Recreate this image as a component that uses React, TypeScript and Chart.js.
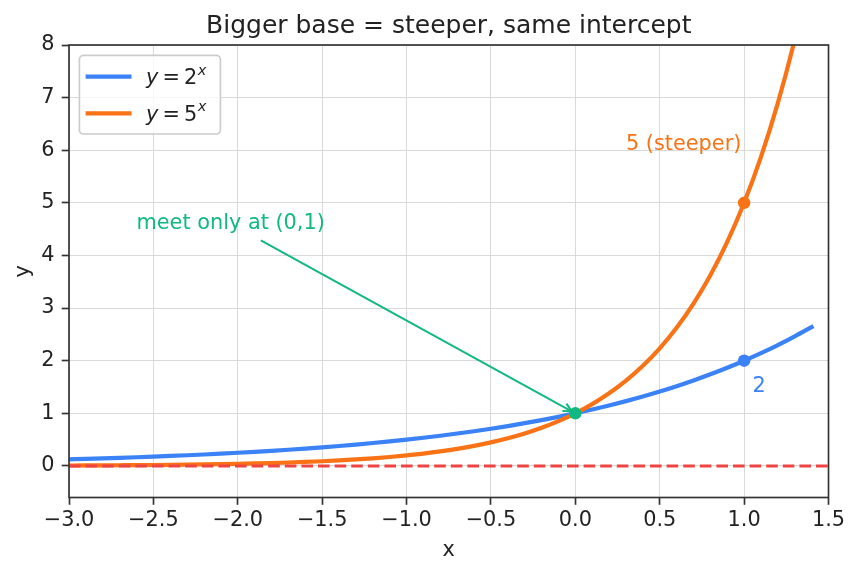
import React, { useEffect, useRef } from 'react';
import { Chart, registerables } from 'chart.js';

Chart.register(...registerables);

// ---- data ----
const xValues = [
  -3.0, -2.9, -2.8, -2.7, -2.6, -2.5, -2.4, -2.3, -2.2, -2.1,
  -2.0, -1.9, -1.8, -1.7, -1.6, -1.5, -1.4, -1.3, -1.2, -1.1,
  -1.0, -0.9, -0.8, -0.7, -0.6, -0.5, -0.4, -0.3, -0.2, -0.1,
  0.0, 0.1, 0.2, 0.3, 0.4, 0.5, 0.6, 0.7, 0.8, 0.9,
  1.0, 1.1, 1.2, 1.3, 1.4,
];
const base2Values = [
  0.125, 0.134, 0.1436, 0.1539, 0.1649, 0.1768, 0.1895, 0.2031, 0.2176, 0.2333,
  0.25, 0.2679, 0.2872, 0.3078, 0.3299, 0.3536, 0.3789, 0.4061, 0.4353, 0.4665,
  0.5, 0.5359, 0.5743, 0.6156, 0.6598, 0.7071, 0.7579, 0.8123, 0.8706, 0.933,
  1.0, 1.0718, 1.1487, 1.2311, 1.3195, 1.4142, 1.5157, 1.6245, 1.7411, 1.8661,
  2.0, 2.1435, 2.2974, 2.4623, 2.639,
];
const base5Values = [
  0.008, 0.0094, 0.011, 0.013, 0.0152, 0.0179, 0.021, 0.0247, 0.029, 0.0341,
  0.04, 0.047, 0.0552, 0.0648, 0.0761, 0.0894, 0.1051, 0.1234, 0.145, 0.1703,
  0.2, 0.2349, 0.2759, 0.3241, 0.3807, 0.4472, 0.5253, 0.617, 0.7248, 0.8513,
  1.0, 1.1746, 1.3797, 1.6207, 1.9037, 2.2361, 2.6265, 3.0852, 3.6239, 4.2567,
  5.0, 5.8731, 6.8986, 8.1033, 9.5183,
];
const asymptoteX = [-3, 1.5];
const asymptoteY = [0, 0];
const marker2 = [1, 2];
const marker5 = [1, 5];
const meetPoint = [0, 1];
const xTickValues = [-3, -2.5, -2, -1.5, -1, -0.5, 0, 0.5, 1, 1.5];
const yTickValues = [0, 1, 2, 3, 4, 5, 6, 7, 8];
const titleText = 'Bigger base = steeper, same intercept';
const meetLabel = 'meet only at (0,1)';
const meetLabelAt = [-2.6, 4.5];
const steepLabel = '5 (steeper)';
const steepLabelAt = [0.3, 6];
const base2Label = '2';
const base2LabelAt = [1.05, 1.4];
const legendBases = ['2', '5'];

// ---- styles ----
const BLUE = '#3b82f6';
const ORANGE = '#f97316';
const GREEN = '#10b981';
const RED = '#ef4444';
const FAMILY = '"DejaVu Sans", sans-serif';
const FS = 20.83;
const INK = '#222222';

const zip = (xs: number[], ys: number[]) => xs.map((x, i) => ({ x, y: ys[i] }));
const fmtX = (v: number) => v.toFixed(1).replace('-', '\u2212');

const overlay = {
  id: 'overlay',
  afterDatasetsDraw(chart: any) {
    const { ctx, scales } = chart;
    const xs = scales.x, ys = scales.y;
    ctx.save();
    ctx.font = `${FS}px ${FAMILY}`;
    ctx.textAlign = 'left';
    ctx.textBaseline = 'alphabetic';

    // meet annotation
    const tx = xs.getPixelForValue(meetLabelAt[0]);
    const ty = ys.getPixelForValue(meetLabelAt[1]);
    ctx.fillStyle = GREEN;
    ctx.fillText(meetLabel, tx, ty);
    const w = ctx.measureText(meetLabel).width;
    const asc = 0.76 * FS, desc = 0.24 * FS;
    const cx = tx + w / 2, cy = ty - (asc - desc) / 2;
    const px = xs.getPixelForValue(meetPoint[0]);
    const py = ys.getPixelForValue(meetPoint[1]);
    const dx = px - cx, dy = py - cy;
    const len = Math.hypot(dx, dy);
    const ux = dx / len, uy = dy / len;
    const pad = 4.17;
    const right = tx + w + pad, bottom = ty + desc + pad;
    const tX = (right - cx) / dx, tY = (bottom - cy) / dy;
    const t = Math.min(tX, tY);
    const sx = cx + t * dx + ux * 4.17, sy = cy + t * dy + uy * 4.17;
    const ex = px - ux * 4.17, ey = py - uy * 4.17;
    ctx.strokeStyle = GREEN;
    ctx.lineWidth = 2;
    ctx.lineCap = 'butt';
    ctx.beginPath();
    ctx.moveTo(sx, sy);
    ctx.lineTo(ex, ey);
    ctx.stroke();
    const hl = 8.3, hw = 4.2;
    const nx = -uy, ny = ux;
    ctx.beginPath();
    ctx.moveTo(ex - ux * hl + nx * hw, ey - uy * hl + ny * hw);
    ctx.lineTo(ex, ey);
    ctx.lineTo(ex - ux * hl - nx * hw, ey - uy * hl - ny * hw);
    ctx.stroke();

    ctx.fillStyle = ORANGE;
    ctx.fillText(steepLabel, xs.getPixelForValue(steepLabelAt[0]), ys.getPixelForValue(steepLabelAt[1]));
    ctx.fillStyle = BLUE;
    ctx.fillText(base2Label, xs.getPixelForValue(base2LabelAt[0]), ys.getPixelForValue(base2LabelAt[1]));
    ctx.restore();
  },
  afterDraw(chart: any) {
    const { ctx, chartArea: a } = chart;
    ctx.save();
    // spines
    ctx.strokeStyle = '#333333';
    ctx.lineWidth = 1.67;
    ctx.strokeRect(a.left, a.top, a.right - a.left, a.bottom - a.top);

    // title
    ctx.fillStyle = INK;
    ctx.textAlign = 'center';
    ctx.textBaseline = 'alphabetic';
    ctx.font = `25px ${FAMILY}`;
    ctx.fillText(titleText, (a.left + a.right) / 2, 32.6);
    // axis labels
    ctx.font = `${FS}px ${FAMILY}`;
    ctx.fillText('x', (a.left + a.right) / 2, 555.5);
    ctx.save();
    ctx.translate(28.5, (a.top + a.bottom) / 2);
    ctx.rotate(-Math.PI / 2);
    ctx.fillText('y', 0, 0);
    ctx.restore();

    // legend
    const lx = a.left + 10.4, ly = a.top + 10.4;
    const lw = 141, lh = 78.6, r = 4;
    ctx.beginPath();
    ctx.moveTo(lx + r, ly);
    ctx.arcTo(lx + lw, ly, lx + lw, ly + lh, r);
    ctx.arcTo(lx + lw, ly + lh, lx, ly + lh, r);
    ctx.arcTo(lx, ly + lh, lx, ly, r);
    ctx.arcTo(lx, ly, lx + lw, ly, r);
    ctx.closePath();
    ctx.fillStyle = 'rgba(255,255,255,0.8)';
    ctx.fill();
    ctx.strokeStyle = '#cccccc';
    ctx.lineWidth = 1.67;
    ctx.stroke();

    const colors = [BLUE, ORANGE];
    legendBases.forEach((b, i) => {
      const rowY = ly + 21.3 + i * 36.6;
      ctx.strokeStyle = colors[i];
      ctx.lineWidth = 4.2;
      ctx.lineCap = 'square';
      ctx.beginPath();
      ctx.moveTo(lx + 8.3, rowY);
      ctx.lineTo(lx + 50, rowY);
      ctx.stroke();
      const base = rowY + 7.6;
      let cxp = lx + 66.7;
      ctx.fillStyle = INK;
      ctx.textAlign = 'left';
      ctx.font = `italic ${FS}px ${FAMILY}`;
      ctx.fillText('y', cxp, base);
      cxp += ctx.measureText('y').width + 4.05;
      ctx.font = `${FS}px ${FAMILY}`;
      ctx.fillText('=', cxp, base);
      cxp += ctx.measureText('=').width + 4.05;
      ctx.fillText(b, cxp, base);
      cxp += ctx.measureText(b).width + 0.5;
      ctx.font = `italic ${FS * 0.7}px ${FAMILY}`;
      ctx.fillText('x', cxp, base - 9.6);
    });
    ctx.restore();
  },
};

export default function App() {
  const ref = useRef<HTMLCanvasElement | null>(null);
  useEffect(() => {
    if (!ref.current) return;
    const gridCommon = {
      color: '#d9d9d9',
      lineWidth: 1,
      tickColor: '#333333',
      tickWidth: 1.67,
      tickLength: 7.3,
    };
    const chart = new Chart(ref.current, {
      type: 'scatter',
      data: {
        datasets: [
          {
            data: zip(asymptoteX, asymptoteY),
            showLine: true,
            borderColor: RED,
            borderWidth: 3.1,
            borderDash: [11.6, 5],
            pointRadius: 0,
            order: 2,
            clip: 0,
          },
          {
            data: zip(xValues, base2Values),
            showLine: true,
            borderColor: BLUE,
            borderWidth: 4.2,
            pointRadius: 0,
            cubicInterpolationMode: 'monotone',
            borderCapStyle: 'square',
            order: 4,
            clip: 0,
          },
          {
            data: zip(xValues, base5Values),
            showLine: true,
            borderColor: ORANGE,
            borderWidth: 4.2,
            pointRadius: 0,
            cubicInterpolationMode: 'monotone',
            borderCapStyle: 'square',
            order: 3,
            clip: 0,
          },
          {
            data: [{ x: marker2[0], y: marker2[1] }],
            pointRadius: 6.25,
            pointBackgroundColor: BLUE,
            pointBorderWidth: 0,
            order: 1,
          },
          {
            data: [{ x: marker5[0], y: marker5[1] }],
            pointRadius: 6.25,
            pointBackgroundColor: ORANGE,
            pointBorderWidth: 0,
            order: 1,
          },
          {
            data: [{ x: meetPoint[0], y: meetPoint[1] }],
            pointRadius: 6.25,
            pointBackgroundColor: GREEN,
            pointBorderWidth: 0,
            order: 0,
          },
        ] as any,
      },
      options: {
        animation: false,
        responsive: false,
        devicePixelRatio: 1,
        layout: { padding: { left: 0, top: 45, right: 30.5, bottom: 0 } },
        plugins: {
          legend: { display: false },
          title: { display: false },
          tooltip: { enabled: false },
        },
        scales: {
          x: {
            type: 'linear',
            min: -3,
            max: 1.5,
            afterBuildTicks: (s: any) => {
              s.ticks = xTickValues.map((v) => ({ value: v }));
            },
            afterFit: (s: any) => {
              s.height = 75.5;
            },
            ticks: {
              callback: (v: any) => fmtX(Number(v)),
              font: { family: FAMILY, size: FS, lineHeight: 1.2 },
              color: INK,
              padding: 3,
              maxRotation: 0,
              autoSkip: false,
            },
            grid: gridCommon,
            border: { display: false },
          },
          y: {
            type: 'linear',
            min: -0.6,
            max: 8,
            afterBuildTicks: (s: any) => {
              s.ticks = yTickValues.map((v) => ({ value: v }));
            },
            afterFit: (s: any) => {
              s.width = 69;
            },
            ticks: {
              callback: (v: any) => String(v),
              font: { family: FAMILY, size: FS },
              color: INK,
              padding: 7.3,
              autoSkip: false,
            },
            grid: gridCommon,
            border: { display: false },
          },
        },
      } as any,
      plugins: [overlay],
    });
    return () => chart.destroy();
  }, []);
  return (
    <div style={{ position: 'fixed', left: 0, top: 0, width: 859, height: 573, background: '#ffffff' }}>
      <canvas ref={ref} width={859} height={573} style={{ width: 859, height: 573 }} />
    </div>
  );
}
